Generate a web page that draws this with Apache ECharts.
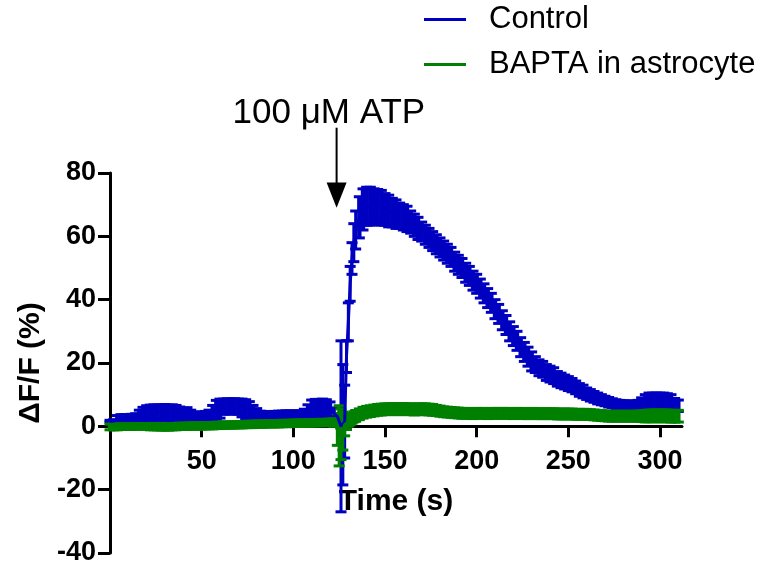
<!DOCTYPE html>
<html><head><meta charset="utf-8">
<script src="https://cdn.jsdelivr.net/npm/echarts@6/dist/echarts.min.js"></script>
<style>html,body{margin:0;padding:0;background:#fff}#c{width:766px;height:564px}</style>
</head><body><div id="c"></div>
<script>
const seriesNames = ['Control', 'BAPTA in astrocyte'];
const times = [0,2,4,6,8,10,12,14,16,18,20,22,24,26,28,30,32,34,36,38,40,42,44,46,48,50,52,54,56,58,60,62,64,66,68,70,72,74,76,78,80,82,84,86,88,90,92,94,96,98,100,102,104,106,108,110,112,114,116,118,120,122,124,
125,126,127,128,129,130,131,132,133,
134,136,138,140,142,144,146,148,150,152,154,156,158,160,162,164,166,168,170,172,174,176,178,180,182,184,186,188,190,192,194,196,198,200,202,204,206,208,210,212,214,216,218,220,222,224,226,228,230,232,234,236,238,240,242,244,246,248,250,252,254,256,258,260,262,264,266,268,270,272,274,276,278,280,282,284,286,288,290,292,294,296,298,300,302,304,306,308,310];
const controlMean = [1.6,1.7,2.4,2.6,2.6,2.6,2.7,2.8,3.4,3.9,
4.2,4.3,4.4,4.3,4.4,4.4,4.3,4.4,4.3,4.0,
3.8,3.9,3.5,3.2,3.2,3.2,3.3,3.5,4.3,5.2,
5.6,6.2,6.3,6.3,6.3,6.2,5.8,5.3,5.0,4.3,
3.8,3.4,3.3,3.3,3.4,3.4,3.5,3.5,3.6,3.6,
3.6,3.7,3.7,4.0,4.7,5.5,5.6,5.6,5.7,5.6,
5.2,4.2,3.1,
2.5,0,0.5,1.5,22,33,45,53,58,
62,66,68.5,69.5,69.5,69.5,69.3,69,68.5,68,
67.5,67,66.5,66,65.5,64.5,63.5,62.5,61.5,60.5,
59.5,58.5,57.5,56.5,55.5,54.5,53.5,52,51,50,
48.5,47.5,46,45,43.5,42,40.5,39,37,35.5,
33.5,32,30,28.5,27,25,23.5,22,20.5,19.5,
18.5,18,17,16.5,16,15,14.5,14,13.5,13,
12.3,11.5,11,10.3,9.8,9.3,8.8,8.4,8,7.6,
7.3,7,6.8,6.7,6.6,6.6,6.6,6.7,7,7.5,
7.8,7.8,7.8,7.8,7.8,7.7,7.5,6.8,6.5];
const controlErr = [0.3,0.4,1.0,1.1,1.1,1.1,1.1,1.2,1.7,2.1,
2.3,2.4,2.4,2.4,2.4,2.5,2.4,2.4,2.3,2.1,
1.9,2.0,1.6,1.3,1.3,1.3,1.4,1.6,2.3,3.0,
3.0,2.4,2.4,2.4,2.4,2.4,2.8,3.1,2.8,2.3,
1.8,1.4,1.3,1.3,1.3,1.3,1.3,1.3,1.3,1.3,
1.2,1.2,1.2,1.4,2.1,2.8,2.9,2.9,2.9,2.8,
2.5,1.6,0.8,
0.6,27,19,11.5,5,6,5.5,5,6,
6,6.5,6.5,6,6,5.5,5.5,5.5,5,5,
4.5,4.5,4,4,4,3.5,3.5,3.5,3,3,
3,3,3,3,3,3,3,3,3,3,
3,3,3,3,3,3,3,3,3,3,
3,3,3,3,3,3,3,3,3,2.5,
2.5,2.5,2.5,2.5,2.5,2.3,2.3,2.2,2.2,2.1,
2,2,2,1.8,1.8,1.7,1.7,1.6,1.5,1.5,
1.4,1.4,1.4,1.4,1.4,1.4,1.4,1.5,2,2.5,
2.7,2.7,2.7,2.7,2.7,2.6,2.5,2,1.8];
const baptaMean = [-0.2,-0.2,-0.2,-0.1,-0.1,-0.1,-0.1,0,0,0,
0,-0.1,-0.1,-0.1,-0.2,-0.2,-0.2,-0.1,-0.1,0,
0,0,0.1,0.1,0.1,0.1,0.2,0.2,0.2,0.3,
0.3,0.4,0.4,0.4,0.5,0.5,0.5,0.6,0.6,0.6,
0.7,0.7,0.7,0.8,0.8,0.8,0.8,0.9,0.9,0.9,
1.0,1.0,1.0,1.0,1.1,1.1,1.1,1.2,1.2,1.2,
1.3,1.2,-1.0,
-3.0,-2.5,-1.5,0.5,1.0,1.5,2.0,2.5,3.0,
3.3,3.8,4.3,4.6,4.8,5.0,5.2,5.3,5.4,5.4,
5.5,5.4,5.4,5.5,5.4,5.4,5.3,5.4,5.4,5.4,
5.3,5.2,5.0,4.8,4.6,4.5,4.4,4.3,4.2,4.1,
4.1,4.1,4.0,4.1,4.1,4.1,4.0,4.1,4.1,4.1,
4.1,4.1,4.1,4.0,4.1,4.1,4.0,4.0,4.1,4.0,
4.0,4.0,4.0,4.0,4.0,3.9,3.9,3.9,3.9,3.9,
3.8,3.8,3.8,3.8,3.7,3.6,3.5,3.4,3.3,3.2,
3.2,3.2,3.2,3.2,3.2,3.2,3.2,3.2,3.2,3.2,
3.3,3.3,3.3,3.3,3.3,3.3,3.2,3.2,3.2];
const baptaErr = [0.9,0.9,0.9,0.9,0.9,0.9,0.9,0.9,0.9,0.9,
0.9,1.0,1.0,1.0,1.0,1.0,1.0,1.0,1.0,1.0,
1.0,1.0,1.0,1.0,1.0,1.0,1.0,1.0,1.0,1.0,
1.0,1.0,1.0,1.0,1.0,1.0,1.0,1.0,1.0,1.0,
1.0,1.0,1.0,1.0,1.0,1.0,1.0,1.0,1.0,1.0,
1.0,1.0,1.0,1.0,1.0,1.0,1.0,1.0,1.0,1.0,
1.0,1.2,5.0,
9.5,8.0,6.0,3.5,2.0,1.5,1.5,1.5,1.6,
1.7,1.7,1.7,1.7,1.7,1.7,1.7,1.7,1.7,1.7,
1.7,1.7,1.7,1.7,1.7,1.7,1.7,1.7,1.7,1.7,
1.7,1.7,1.6,1.6,1.55,1.55,1.55,1.55,1.55,1.55,
1.55,1.55,1.55,1.55,1.55,1.55,1.55,1.55,1.55,1.55,
1.55,1.55,1.55,1.55,1.55,1.55,1.55,1.55,1.55,1.55,
1.55,1.55,1.55,1.55,1.55,1.55,1.55,1.55,1.55,1.55,
1.55,1.55,1.55,1.55,1.55,1.55,1.55,1.55,1.55,1.55,
1.55,1.55,1.55,1.55,1.55,1.55,1.55,1.6,1.7,1.8,
1.85,1.85,1.85,1.85,1.85,1.85,1.85,1.85,1.85];
const xTickValues = [50,100,150,200,250,300];
const yTickValues = [-40,-20,0,20,40,60,80];
const annotationText = '100 \u03bcM ATP';
const arrowX = 123.6, arrowTopY = 94.3, arrowHeadY = 77, arrowTipY = 69;
const labelPos = [119.4, 98.7];

const colors = ['#0000c0', '#008000'];
const FONT = '"Liberation Sans", Arial, Helvetica, sans-serif';
const Y_MIN = -40, Y_MAX = 80;
const GRID = { left: 110, right: 84, top: 173, bottom: 11 };
// shift the x axis up so that it sits on y = 0
const plotH = 564 - GRID.top - GRID.bottom;
const xAxisOffset = -plotH * (0 - Y_MIN) / (Y_MAX - Y_MIN);

function errSeries(name, mean, err, color) {
  return {
    type: 'custom', name: name, silent: true, animation: false,
    itemStyle: { color: color },
    data: times.map((t, i) => [t, mean[i] - err[i], mean[i] + err[i]]),
    encode: { x: 0, y: [1, 2] },
    renderItem: function (params, api) {
      const i = params.dataIndex;
      const x = api.value(0);
      const lo = api.coord([x, api.value(1)]);
      const hi = api.coord([x, api.value(2)]);
      const dtPrev = i > 0 ? times[i] - times[i - 1] : 2;
      const dtNext = i < times.length - 1 ? times[i + 1] - times[i] : 2;
      const bw = Math.min(dtPrev, dtNext) >= 2 ? 4.4 : 3;
      const hw = 5.5;
      const st = { stroke: color, lineWidth: 3 };
      return { type: 'group', children: [
        { type: 'rect', shape: { x: lo[0] - bw / 2, y: hi[1], width: bw, height: Math.max(lo[1] - hi[1], 0.5) }, style: { fill: color } },
        { type: 'line', shape: { x1: lo[0] - hw, y1: lo[1], x2: lo[0] + hw, y2: lo[1] }, style: st },
        { type: 'line', shape: { x1: hi[0] - hw, y1: hi[1], x2: hi[0] + hw, y2: hi[1] }, style: st }
      ]};
    }
  };
}
function lineSeries(name, mean, color) {
  return {
    type: 'line', name: name, showSymbol: false, symbol: 'none', animation: false, silent: true,
    color: color, lineStyle: { color: color, width: 3 },
    data: times.map((t, i) => [t, mean[i]])
  };
}

const chart = echarts.init(document.getElementById('c'), null, { renderer: 'canvas' });
chart.setOption({
  backgroundColor: '#ffffff',
  animation: false,
  textStyle: { fontFamily: FONT },
  grid: { left: GRID.left, right: GRID.right, top: GRID.top, bottom: GRID.bottom, containLabel: false, outerBoundsMode: 'none' },
  legend: {
    orient: 'vertical', left: 424, top: 4, padding: 0, itemGap: 14, itemWidth: 42, itemHeight: 3,
    data: seriesNames.map(n => ({ name: n, icon: 'rect' })),
    textStyle: { fontSize: 31, color: '#000', fontFamily: FONT, padding: [0, 0, 0, 18] },
    selectedMode: false
  },
  xAxis: {
    type: 'value', min: 0, max: 312, interval: 50, position: 'bottom', offset: xAxisOffset,
    name: 'Time (s)', nameLocation: 'middle', nameGap: 60,
    nameTextStyle: { fontSize: 30, fontWeight: 'bold', color: '#000', fontFamily: FONT },
    axisLine: { onZero: false, lineStyle: { color: '#000', width: 3 } },
    axisTick: { show: true, length: 11, lineStyle: { color: '#000', width: 3 }, customValues: xTickValues },
    axisLabel: {
      show: true, fontSize: 27, fontWeight: 'bold', color: '#000', margin: 22, fontFamily: FONT,
      customValues: xTickValues
    },
    splitLine: { show: false }
  },
  yAxis: {
    type: 'value', min: Y_MIN, max: Y_MAX, interval: 20,
    name: '\u0394F/F (%)', nameLocation: 'middle', nameGap: 64,
    nameTextStyle: { fontSize: 30, fontWeight: 'bold', color: '#000', fontFamily: FONT },
    axisLine: { show: true, onZero: false, lineStyle: { color: '#000', width: 3 } },
    axisTick: { show: true, length: 12, lineStyle: { color: '#000', width: 3 }, customValues: yTickValues },
    axisLabel: { fontSize: 27, fontWeight: 'bold', color: '#000', margin: 14, fontFamily: FONT, customValues: yTickValues },
    splitLine: { show: false }
  },
  series: [
    lineSeries(seriesNames[0], controlMean, colors[0]),
    errSeries(seriesNames[0], controlMean, controlErr, colors[0]),
    lineSeries(seriesNames[1], baptaMean, colors[1]),
    errSeries(seriesNames[1], baptaMean, baptaErr, colors[1])
  ]
});

const px = (x, y) => chart.convertToPixel({ gridIndex: 0 }, [x, y]);
const aTop = px(arrowX, arrowTopY), aHead = px(arrowX, arrowHeadY), aTip = px(arrowX, arrowTipY), lp = px(labelPos[0], labelPos[1]);
chart.setOption({
  graphic: [
    { type: 'line', silent: true, shape: { x1: aTop[0], y1: aTop[1], x2: aHead[0], y2: aHead[1] + 2 }, style: { stroke: '#000', lineWidth: 2 } },
    { type: 'polygon', silent: true, shape: { points: [[aHead[0] - 10, aHead[1]], [aHead[0] + 10, aHead[1]], [aTip[0], aTip[1]]] }, style: { fill: '#000' } },
    { type: 'text', silent: true, x: lp[0], y: lp[1], style: { text: annotationText, align: 'center', verticalAlign: 'middle', fontSize: 35, fontFamily: FONT, fill: '#000' } }
  ]
});
</script>
</body></html>
